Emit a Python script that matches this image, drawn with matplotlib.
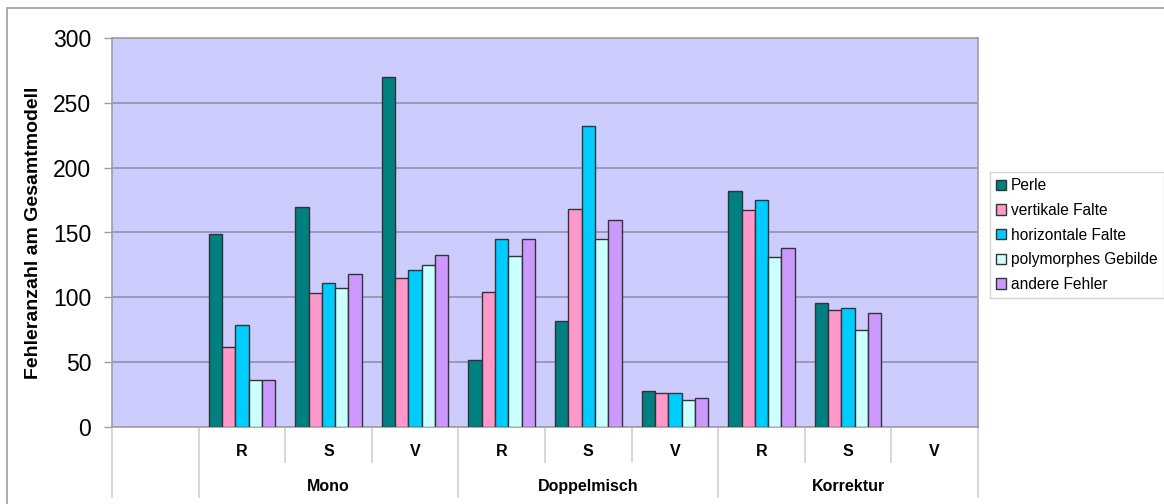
import numpy as np
import matplotlib
matplotlib.use("Agg")
import matplotlib.pyplot as plt
from matplotlib.patches import Rectangle
from matplotlib.transforms import blended_transform_factory

plt.rcParams["font.family"] = ["Liberation Sans", "DejaVu Sans"]

# Category structure: one empty leading slot, then three groups of R/S/V
groups = ["Mono", "Doppelmisch", "Korrektur"]
subcats = ["R", "S", "V"]

series_names = ["Perle", "vertikale Falte", "horizontale Falte",
                "polymorphes Gebilde", "andere Fehler"]
perle = [149, 170, 270, 52, 82, 28, 182, 96, np.nan]
vertikale_falte = [62, 103, 115, 104, 168, 26, 167, 90, np.nan]
horizontale_falte = [79, 111, 121, 145, 232, 26, 175, 92, np.nan]
polymorphes_gebilde = [36, 107, 125, 132, 145, 21, 131, 75, np.nan]
andere_fehler = [36, 118, 133, 145, 160, 22, 138, 88, np.nan]

series_values = [perle, vertikale_falte, horizontale_falte,
                 polymorphes_gebilde, andere_fehler]
colors = ["#008080", "#FF99CC", "#00CCFF", "#CCFFFF", "#CC99FF"]

y_ticks = [0, 50, 100, 150, 200, 250, 300]
y_label = "Fehleranzahl am Gesamtmodell"

W, H = 1164, 504
fig = plt.figure(figsize=(W / 100, H / 100), dpi=100)
fig.patch.set_facecolor("white")

# outer chart frame
fig.add_artist(Rectangle((6.5 / W, -0.1), 1.2, (H - 8) / H + 0.1,
                         transform=fig.transFigure, fill=False,
                         edgecolor="#A0A0A0", linewidth=1.2))

left, right, top, bottom = 112 / W, 978 / W, 1 - 38 / H, 1 - 427 / H
ax = fig.add_axes([left, bottom, right - left, top - bottom])
ax.set_facecolor("#CCCCFF")

n_slots = 1 + len(groups) * len(subcats)
positions = np.arange(1, n_slots)
bar_w = 1 / 6.5
for j, (name, vals, col) in enumerate(zip(series_names, series_values, colors)):
    ax.bar(positions + (j - 2) * bar_w, vals, width=bar_w, color=col,
           edgecolor="#333333", linewidth=1.0, label=name, zorder=3)

ax.set_xlim(-0.5, n_slots - 0.5)
ax.set_ylim(0, 300)
ax.set_yticks(y_ticks)
ax.set_yticklabels([str(t) for t in y_ticks], fontsize=16.5)
ax.yaxis.grid(True, color="#9A9AB8", linewidth=1.4, zorder=1)
ax.set_axisbelow(True)
ax.tick_params(axis="y", length=6, width=1, color="#A0A0A0", pad=9)
ax.set_xticks([])
for s in ax.spines.values():
    s.set_color("#A0A0A0")
    s.set_linewidth(1.2)

ax.set_ylabel(y_label, fontsize=14, fontweight="bold", labelpad=8)

# two-level category axis below the plot
trans = blended_transform_factory(ax.transData, ax.transAxes)
short_len, long_len = -0.09, -0.181
for b in range(n_slots + 1):
    xb = b - 0.5
    if b in (0, 1) or (b - 1) % len(subcats) == 0:
        y_end = long_len
    else:
        y_end = short_len
    ax.plot([xb, xb], [0, y_end], transform=trans, color="#D0D0D0",
            linewidth=1.2, clip_on=False)

for gi, g in enumerate(groups):
    for si, sc in enumerate(subcats):
        xc = 1 + gi * len(subcats) + si
        ax.text(xc, -0.064, sc, transform=trans, ha="center", va="center",
                fontsize=11.5, fontweight="bold")
    xg = 1 + gi * len(subcats) + (len(subcats) - 1) / 2
    ax.text(xg, -0.152, g, transform=trans, ha="center", va="center",
            fontsize=11.5, fontweight="bold")

leg = fig.legend(loc="upper left", bbox_to_anchor=(990 / W, 1 - 172 / H),
                 fontsize=11.2, frameon=True, fancybox=False,
                 edgecolor="#C8C8C8", handlelength=0.65, handleheight=0.65,
                 handletextpad=0.3, labelspacing=0.62, borderpad=0.4,
                 borderaxespad=0)
leg.get_frame().set_linewidth(1.0)

fig.savefig("out.png", dpi=100, facecolor="white")
